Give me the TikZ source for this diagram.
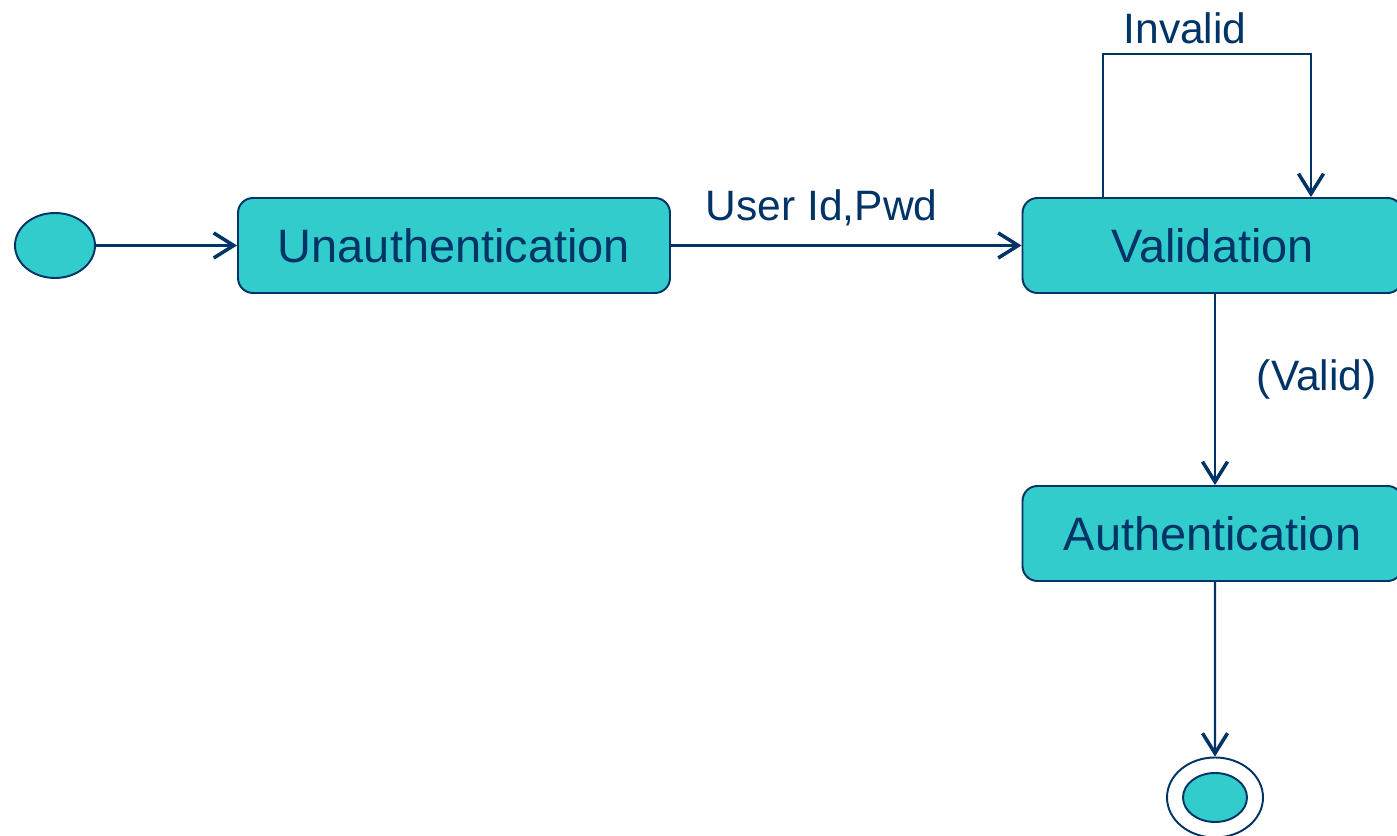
\documentclass[tikz,border=0pt]{standalone}
\usepackage{fontspec}
\setmainfont{Liberation Sans}
\usepackage{tikz}
\usetikzlibrary{arrows.meta,shapes,positioning}
\definecolor{statefill}{HTML}{33CCCC}
\definecolor{stateline}{HTML}{003366}

\begin{document}
\begin{tikzpicture}[
    state/.style={draw=stateline,fill=statefill,line width=1.1pt,rounded corners=0.3cm,minimum width=8.64cm,minimum height=1.9cm,text=stateline,font=\fontsize{26.7}{32}\selectfont},
    trans/.style={draw=stateline,line width=1.2pt,-{Straight Barb[length=0.4cm,width=0.5cm,line width=2pt]}},
    guard/.style={text=stateline,font=\fontsize{24.2}{29}\selectfont}
    ]
            \useasboundingbox (0,0) rectangle (27.94,16.72);
            \node[draw=stateline,fill=statefill,line width=1.1pt,ellipse,minimum width=1.6cm,minimum height=1.3cm] (start) at (1.1,11.81) {};
            \node[state] (unauth) at (9.08,11.81) {Unauthentication};
            \node[state,minimum width=7.6cm] (valid) at (24.25,11.81) {Validation};
            \node[state,minimum width=7.6cm] (auth) at (24.25,6.05) {Authentication};
            \node[draw=stateline,line width=1.1pt,ellipse,minimum width=1.92cm,minimum height=1.6cm] (final) at (24.3,0.77) {};
            \node[draw=stateline,fill=statefill,line width=1.1pt,ellipse,minimum width=1.28cm,minimum height=0.98cm] at (final) {};
            \draw[trans] (start) -- (unauth);
            \draw[trans] (unauth) -- (valid) node[guard,pos=0.43,above=0.25cm] {User Id,Pwd};
            \draw[trans] ([xshift=-2.19cm]valid.north) -- ++(0,2.86) -| ([xshift=1.97cm]valid.north);
            \node[guard] at (23.7,16.16) {Invalid};
            \draw[trans] ([xshift=0.05cm]valid.south) -- ([xshift=0.05cm]auth.north) node[guard,pos=0.45,right=0.7cm] {(Valid)};
            \draw[trans] ([xshift=0.05cm]auth.south) -- (final);
        \end{tikzpicture}
\end{document}
